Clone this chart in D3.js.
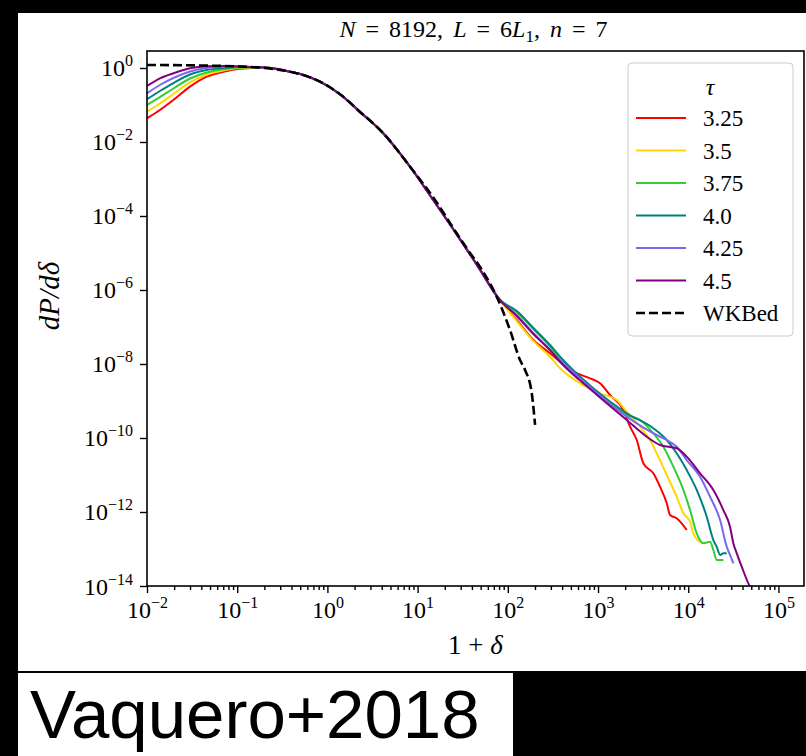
<!DOCTYPE html>
<html><head><meta charset="utf-8">
<script src="https://cdn.jsdelivr.net/npm/d3@7"></script>
<style>body{margin:0;background:#000;} svg{display:block;}</style>
</head><body><svg id="c" width="806" height="756"></svg>
<script>
// ---------- data ----------
const tauLabels = ["3.25", "3.5", "3.75", "4.0", "4.25", "4.5"];
const xTickValues = [1e-2, 1e-1, 1e0, 1e1, 1e2, 1e3, 1e4, 1e5];
const xTickExps = ["\u22122", "\u22121", "0", "1", "2", "3", "4", "5"];
const yTickValues = [1e0, 1e-2, 1e-4, 1e-6, 1e-8, 1e-10, 1e-12, 1e-14];
const yTickExps = ["0", "\u22122", "\u22124", "\u22126", "\u22128", "\u221210", "\u221212", "\u221214"];

// shared middle part where all tau curves coincide: [1+delta, dP/ddelta]
const core = [[0.203,1.03],[0.385,0.794],[0.565,0.627],[0.828,0.427],[1.38,0.195],[2.30,0.065],[4.13,0.0175],[8.24,0.00215],[14.9,2.70e-4],[26.7,3.40e-5],[46.8,4.27e-6],[81.8,5.37e-7]];

const head325 = [[0.01,0.0437],[0.0139,0.0733],[0.0196,0.136],[0.030,0.313],[0.0459,0.582],[0.0702,0.794],[0.107,0.957]];
const head350 = [[0.01,0.0659],[0.0139,0.110],[0.0196,0.198],[0.030,0.406],[0.0459,0.667],[0.0702,0.855],[0.107,1.0]];
const head375 = [[0.01,0.100],[0.0139,0.164],[0.0196,0.279],[0.030,0.520],[0.0459,0.755],[0.0702,0.922],[0.107,1.03]];
const head400 = [[0.01,0.143],[0.0139,0.239],[0.0196,0.393],[0.030,0.667],[0.0459,0.883],[0.0702,1.0],[0.107,1.06]];
const head425 = [[0.01,0.207],[0.0139,0.347],[0.0196,0.537],[0.030,0.804],[0.0459,1.0],[0.0702,1.08],[0.107,1.08]];
const head450 = [[0.01,0.326],[0.0139,0.527],[0.0196,0.719],[0.030,0.98],[0.0459,1.11],[0.0702,1.13],[0.107,1.10]];

const tail325 = [[125.6,1.55e-7],[191.9,4.46e-8],[293.8,1.95e-8],[532,6.19e-9],[815,4.11e-9],[1052,3.01e-9],[1358,1.45e-9],[1910,5.71e-10],[2265,2.02e-10],[2687,8.83e-11],[3178,2.07e-11],[4104,1.11e-11],[4864,4.83e-12],[5780,1.72e-12],[6281,8.30e-13],[7447,6.76e-13],[9616,3.27e-13]];
const tail350 = [[125.6,1.45e-7],[191.9,4.2e-8],[293.8,1.57e-8],[379.3,7.65e-9],[631,3.01e-9],[1052,1.61e-9],[1611,1.06e-9],[2080,5.14e-10],[2924,2.02e-10],[3776,8.83e-11],[4477,3.86e-11],[5780,1.0e-11],[7447,2.59e-12],[8831,9.22e-13],[10470,5.47e-13],[11400,2.65e-13],[13520,1.57e-13],[15360,1.43e-13]];
const tail375 = [[125.6,2.54e-7],[191.9,8.83e-8],[293.8,2.94e-8],[379.3,1.28e-8],[887,1.98e-9],[2080,4.19e-10],[2924,3.06e-10],[4104,1.34e-10],[5297,5.82e-11],[6839,1.68e-11],[8831,3.94e-12],[10470,1.13e-12],[12420,2.65e-13],[14720,1.43e-13],[17460,1.57e-13],[18980,9.4e-14],[20690,5.05e-14],[24500,5.05e-14]];
const tail400 = [[125.6,2.71e-7],[191.9,9.4e-8],[293.8,3.26e-8],[379.3,1.57e-8],[887,2.20e-9],[2080,4.65e-10],[4104,1.83e-10],[5780,8.83e-11],[7447,3.86e-11],[9616,1.36e-11],[12420,3.94e-12],[16030,7.46e-13],[18980,1.75e-13],[20690,1.15e-13],[22540,6.89e-14],[24500,7.65e-14],[26720,7.65e-14]];
const tail425 = [[125.6,2.11e-7],[191.9,6.89e-8],[293.8,2.38e-8],[379.3,1.28e-8],[887,1.98e-9],[2080,3.77e-10],[4864,1.08e-10],[5780,8.83e-11],[7447,5.82e-11],[9616,2.54e-11],[13520,9.0e-12],[17460,2.59e-12],[22540,6.08e-13],[26720,1.15e-13],[29040,6.89e-14],[31620,4.11e-14]];
const tail450 = [[125.6,1.98e-7],[191.9,6.47e-8],[293.8,2.38e-8],[379.3,1.15e-8],[887,1.78e-9],[2080,3.06e-10],[3467,1.08e-10],[4864,6.47e-11],[7447,5.27e-11],[9616,3.13e-11],[13520,1.11e-11],[18980,3.94e-12],[24500,1.13e-12],[29040,4.01e-13],[31620,1.43e-13],[34510,7.65e-14],[39170,3.33e-14],[46350,1.18e-14],[51000,7.5e-15]];

const wkbed = [[0.01,1.205],[0.0387,1.17],[0.107,1.10],[0.203,1.0],[0.385,0.794],[0.828,0.427],[1.38,0.195],[2.30,0.065],[4.13,0.0175],[8.24,0.00215],[15.6,2.70e-4],[27.1,3.40e-5],[36.2,1.20e-5],[51.4,3.55e-6],[75.3,6.59e-7],[105.7,8.30e-8],[136.5,1.28e-8],[155.2,6.89e-9],[184.1,1.64e-9],[200.5,2.25e-10]];

const heads = [head325, head350, head375, head400, head425, head450];
const tails = [tail325, tail350, tail375, tail400, tail425, tail450];
const seriesData = heads.map((h, i) => h.concat(core, tails[i]));

// ---------- styles ----------
const colors = ["#ff0000", "#ffd700", "#32cd32", "#008080", "#7b68ee", "#800080"];
const serif = "'Liberation Serif', 'DejaVu Serif', serif";

// ---------- layout ----------
const svg = d3.select("#c");
const X0 = 147, X1 = 804, Y0 = 51, Y1 = 586;

svg.append("rect").attr("x", 0).attr("y", 0).attr("width", 806).attr("height", 756).attr("fill", "#000");
svg.append("rect").attr("x", 18).attr("y", 13).attr("width", 788).attr("height", 658).attr("fill", "#fff");
svg.append("rect").attr("x", 18).attr("y", 673).attr("width", 495).attr("height", 83).attr("fill", "#fff");

const x = d3.scaleLog().domain([1e-2, 1.92e5]).range([X0, X1]);
const y = d3.scaleLog().domain([1e-14, 2.88]).range([Y1, Y0]);

svg.append("defs").append("clipPath").attr("id", "clip")
  .append("rect").attr("x", X0).attr("y", Y0).attr("width", X1 - X0).attr("height", Y1 - Y0);

const line = d3.line().x(d => x(d[0])).y(d => y(d[1])).curve(d3.curveMonotoneX);

const plot = svg.append("g").attr("clip-path", "url(#clip)");
seriesData.forEach((s, i) => {
  plot.append("path").attr("d", line(s)).attr("fill", "none")
    .attr("stroke", colors[i]).attr("stroke-width", 2).attr("stroke-linejoin", "round");
});
plot.append("path").attr("d", line(wkbed)).attr("fill", "none")
  .attr("stroke", "#000").attr("stroke-width", 2.6).attr("stroke-dasharray", "9,4");

// ---------- axes ----------
const minorX = [];
for (let e = -2; e <= 5; e++) for (let k = 2; k <= 9; k++) { const v = k * Math.pow(10, e); if (v <= 1.92e5) minorX.push(v); }

const gxMinor = svg.append("g").attr("transform", `translate(0,${Y1})`)
  .call(d3.axisBottom(x).tickValues(minorX).tickSize(4).tickFormat(""));
const gx = svg.append("g").attr("transform", `translate(0,${Y1})`)
  .call(d3.axisBottom(x).tickValues(xTickValues).tickSize(7).tickFormat(""));
const gy = svg.append("g").attr("transform", `translate(${X0},0)`)
  .call(d3.axisLeft(y).tickValues(yTickValues).tickSize(7).tickFormat(""));
[gxMinor, gx, gy].forEach(g => {
  g.select(".domain").remove();
  g.selectAll(".tick line").attr("stroke", "#000").attr("stroke-width", 1.4);
});

gx.selectAll(".tick").each(function(d, i) {
  const t = d3.select(this).append("text").attr("y", 32).attr("text-anchor", "middle")
    .attr("fill", "#000").style("font-family", serif).style("font-size", "24px");
  t.append("tspan").text("10");
  t.append("tspan").attr("dy", -10).style("font-size", "16px").text(xTickExps[i]);
});
gy.selectAll(".tick").each(function(d, i) {
  const t = d3.select(this).append("text").attr("x", -14).attr("y", 8).attr("text-anchor", "end")
    .attr("fill", "#000").style("font-family", serif).style("font-size", "24px");
  t.append("tspan").text("10");
  t.append("tspan").attr("dy", -10).style("font-size", "16px").text(yTickExps[i]);
});

svg.append("rect").attr("x", X0).attr("y", Y0).attr("width", X1 - X0).attr("height", Y1 - Y0)
  .attr("fill", "none").attr("stroke", "#000").attr("stroke-width", 1.6);

// ---------- titles ----------
const title = svg.append("text").attr("x", (X0 + X1) / 2 - 2).attr("y", 37).attr("text-anchor", "middle")
  .style("font-family", serif).style("font-size", "24px").style("word-spacing", "4px").attr("fill", "#000");
title.append("tspan").style("font-style", "italic").text("N");
title.append("tspan").text(" = 8192,  ");
title.append("tspan").style("font-style", "italic").text("L");
title.append("tspan").text(" = 6");
title.append("tspan").style("font-style", "italic").text("L");
title.append("tspan").attr("dy", 5).style("font-size", "17px").text("1");
title.append("tspan").attr("dy", -5).text(",  ");
title.append("tspan").style("font-style", "italic").text("n");
title.append("tspan").text(" = 7");

const xl = svg.append("text").attr("x", (X0 + X1) / 2).attr("y", 654).attr("text-anchor", "middle")
  .style("font-family", serif).style("font-size", "27px").attr("fill", "#000");
xl.append("tspan").text("1 + ");
xl.append("tspan").style("font-style", "italic").text("\u03b4");

const yl = svg.append("text").attr("transform", `translate(59,296) rotate(-90)`)
  .attr("text-anchor", "middle").style("font-family", serif).style("font-size", "29px")
  .style("font-style", "italic").attr("fill", "#000").text("dP/d\u03b4");

// ---------- legend ----------
const lg = svg.append("g");
lg.append("rect").attr("x", 628).attr("y", 63).attr("width", 165).attr("height", 273)
  .attr("rx", 4).attr("fill", "#fff").attr("fill-opacity", 0.85).attr("stroke", "#cccccc").attr("stroke-width", 1);
lg.append("text").attr("x", 710).attr("y", 95).attr("text-anchor", "middle")
  .style("font-family", serif).style("font-size", "24px").style("font-style", "italic").attr("fill", "#000").text("\u03c4");
const rowY = i => 118 + i * 32.5;
tauLabels.forEach((lab, i) => {
  lg.append("line").attr("x1", 636).attr("x2", 686).attr("y1", rowY(i)).attr("y2", rowY(i))
    .attr("stroke", colors[i]).attr("stroke-width", 2);
  lg.append("text").attr("x", 703).attr("y", rowY(i) + 8)
    .style("font-family", serif).style("font-size", "23px").attr("fill", "#000").text(lab);
});
lg.append("line").attr("x1", 636).attr("x2", 686).attr("y1", rowY(6)).attr("y2", rowY(6))
  .attr("stroke", "#000").attr("stroke-width", 2.6).attr("stroke-dasharray", "9,4");
lg.append("text").attr("x", 703).attr("y", rowY(6) + 8)
  .style("font-family", serif).style("font-size", "23px").attr("fill", "#000").text("WKBed");

// ---------- caption ----------
svg.append("text").attr("x", 30).attr("y", 738)
  .style("font-family", "'Liberation Sans', Arial, sans-serif").style("font-size", "69px")
  .attr("fill", "#000").text("Vaquero+2018");
</script>
</body></html>
